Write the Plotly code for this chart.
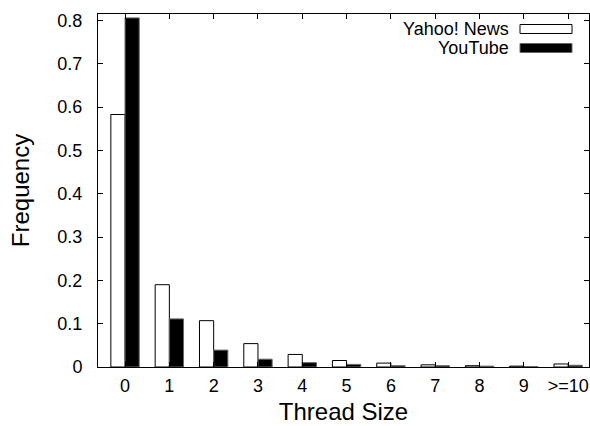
import plotly.graph_objects as go

categories = ["0", "1", "2", "3", "4", "5", "6", "7", "8", "9", ">=10"]
yahoo_news = [0.583, 0.190, 0.107, 0.054, 0.029, 0.015, 0.009, 0.005, 0.003, 0.002, 0.007]
youtube = [0.806, 0.111, 0.039, 0.018, 0.010, 0.006, 0.003, 0.003, 0.002, 0.001, 0.004]
y_ticks = [0, 0.1, 0.2, 0.3, 0.4, 0.5, 0.6, 0.7, 0.8]
y_tick_labels = ["0", "0.1", "0.2", "0.3", "0.4", "0.5", "0.6", "0.7", "0.8"]

xpos = list(range(len(categories)))
FONT = "Liberation Sans, Arial, sans-serif"

fig = go.Figure()
fig.add_trace(go.Bar(x=xpos, y=yahoo_news, name="Yahoo! News",
                     marker=dict(color="white", line=dict(color="black", width=1))))
fig.add_trace(go.Bar(x=xpos, y=youtube, name="YouTube",
                     marker=dict(color="black", line=dict(color="#666666", width=1))))

fig.update_layout(
    width=590, height=426,
    margin=dict(l=98, r=1, t=14, b=59),
    paper_bgcolor="white", plot_bgcolor="white",
    barmode="group", bargap=0.36, bargroupgap=0,
    showlegend=False,
    font=dict(family=FONT, color="black", size=18),
)
fig.update_xaxes(
    range=[-0.61, 10.47], tickvals=xpos, ticktext=categories,
    ticks="inside", ticklen=5, tickcolor="black",
    showline=True, linecolor="black", linewidth=1, mirror="allticks",
    showgrid=False, zeroline=False, automargin=False,
    tickfont=dict(size=18), ticklabelstandoff=2,
    title=dict(text="Thread Size", font=dict(size=24), standoff=8),
)
fig.update_yaxes(
    range=[0, 0.815], tickvals=y_ticks, ticktext=y_tick_labels,
    ticks="inside", ticklen=5, tickcolor="black",
    showline=True, linecolor="black", linewidth=1, mirror="allticks",
    showgrid=False, zeroline=False, automargin=False,
    tickfont=dict(size=18), ticklabelstandoff=11,
    title=dict(text="Frequency", font=dict(size=24), standoff=20),
)

# Legend drawn in the top-right corner (text left of the sample, as in the reference)
legend_items = [("Yahoo! News", "white", "black", 29), ("YouTube", "black", "#666666", 48)]
for label, fill, line, ypix in legend_items:
    yc = 1 - (ypix - 14) / (367 - 14)
    fig.add_annotation(xref="paper", yref="paper", x=(511 - 98) / (589 - 98), y=yc,
                       text=label, showarrow=False, xanchor="right", yanchor="middle",
                       font=dict(size=18, family=FONT))
    fig.add_shape(type="rect", xref="paper", yref="paper",
                  x0=(520 - 98) / 491, x1=(572 - 98) / 491,
                  y0=yc - 4.5 / 353, y1=yc + 4.5 / 353,
                  fillcolor=fill, line=dict(color=line, width=1))

fig.write_html("out.html", post_script="document.body.style.margin='0';",
               config={"displayModeBar": False})
